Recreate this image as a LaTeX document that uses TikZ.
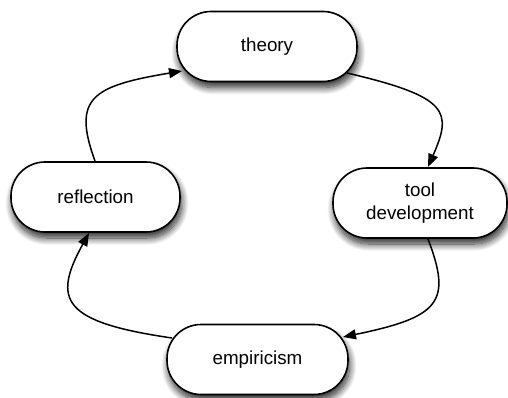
\documentclass[tikz,border=0pt]{standalone}
\usepackage{fontspec}
\setmainfont{Liberation Sans}
\usetikzlibrary{arrows.meta,shadows.blur}
\tikzset{
  pill/.style={draw=black, line width=1.6pt, fill=white, rounded corners=34pt,
    minimum height=70pt, inner sep=0pt, align=center,
    font=\fontsize{18.8}{22.5}\selectfont,
    blur shadow={shadow xshift=1.5pt, shadow yshift=-6pt, shadow blur steps=12, shadow blur radius=7pt, shadow opacity=85}},
  conn/.style={line width=1.5pt, -{Triangle[length=13pt,width=10pt]}}
}
\begin{document}
\begin{tikzpicture}[x=1pt,y=-1pt]
\useasboundingbox (0,0) rectangle (508,398);
\node[pill, minimum width=180pt] (theory) at (267,46.5) {theory};
\node[pill, minimum width=174pt] (tool) at (420,203) {tool\\development};
\node[pill, minimum width=169pt] (refl) at (95.5,197) {reflection};
\node[pill, minimum width=181pt] (emp) at (257.5,359.5) {empiricism};
\coordinate (r1) at (95,161);
\coordinate (t2) at (182,71);
\coordinate (t1) at (347,73);
\coordinate (d2) at (428,167);
\coordinate (d1) at (428,239);
\coordinate (e2) at (343,337);
\coordinate (e1) at (172,338);
\coordinate (f2) at (89,233);
\draw[conn] (r1) .. controls (72,98) and (92,86) .. (t2);
\draw[conn] (t1) .. controls (450,97) and (452,112) .. (d2);
\draw[conn] (d1) .. controls (452,302) and (440,317) .. (e2);
\draw[conn] (e1) .. controls (62,322) and (52,300) .. (f2);
\end{tikzpicture}
\end{document}
